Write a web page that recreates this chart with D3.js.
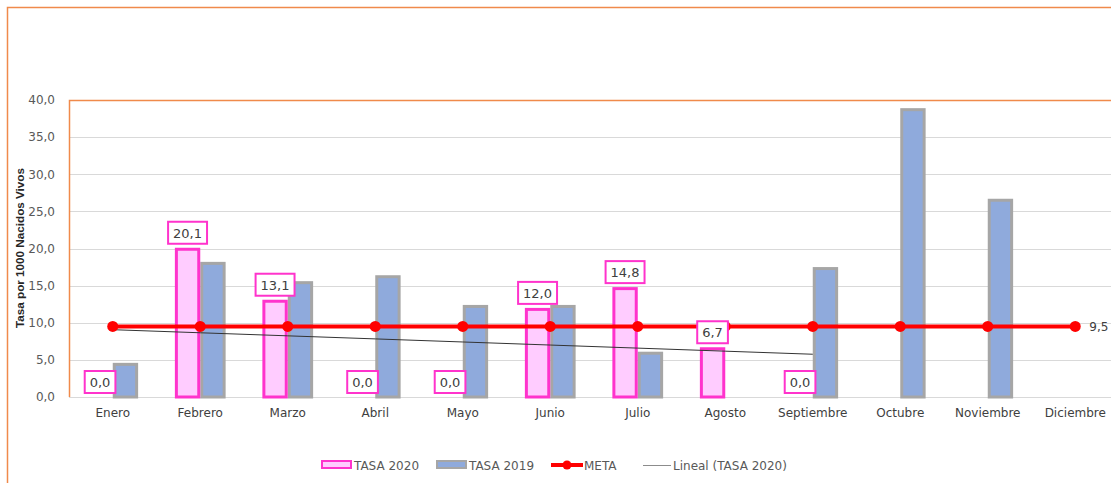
<!DOCTYPE html>
<html>
<head>
<meta charset="utf-8">
<script src="https://cdn.jsdelivr.net/npm/d3@7"></script>
<style>
  html, body { margin: 0; padding: 0; background: #fff; }
  svg { display: block; }
</style>
</head>
<body>
<svg id="chart" width="1111" height="483"></svg>
<script>
// Monthly rates per 1000 live births
const months = ["Enero", "Febrero", "Marzo", "Abril", "Mayo", "Junio", "Julio",
                "Agosto", "Septiembre", "Octubre", "Noviembre", "Diciembre"];
const tasa2020 = [0.0, 20.1, 13.1, 0.0, 0.0, 12.0, 14.8, 6.7, 0.0, null, null, null];
const tasa2019 = [4.6, 18.2, 15.6, 16.4, 12.4, 12.4, 6.1, null, 17.5, 38.9, 26.7, null];
const meta = [9.5, 9.5, 9.5, 9.5, 9.5, 9.5, 9.5, 9.5, 9.5, 9.5, 9.5, 9.5];
const yTicks = [0, 5, 10, 15, 20, 25, 30, 35, 40];
const seriesNames = ["TASA 2020", "TASA 2019", "META", "Lineal (TASA 2020)"];

const fmt = v => d3.format(".1f")(v).replace(".", ",");

const svg = d3.select("#chart");
const FONT = "DejaVu Sans, sans-serif";
const ORANGE = "#f08a4b";
const PINK_STROKE = "#ff33cc", PINK_FILL = "#ffccff";
const BLUE_FILL = "#8faadc", GRAY_STROKE = "#a6a6a6";
const RED = "#ff0000";

// outer chart frame
svg.append("path")
  .attr("d", "M7.5,483 V7.5 H1111")
  .attr("fill", "none").attr("stroke", ORANGE).attr("stroke-width", 1.5);

const plot = { left: 69, top: 100, right: 1119, bottom: 397 };

const x = d3.scaleBand().domain(months)
  .range([plot.left, plot.right]).paddingInner(0.42).paddingOuter(0.21);
const xs = d3.scaleBand().domain(["2020", "2019"]).range([0, x.bandwidth()]);
const y = d3.scaleLinear().domain([0, 40]).range([plot.bottom, plot.top]);

// gridlines
svg.append("g")
  .selectAll("line").data(yTicks).join("line")
  .attr("x1", plot.left).attr("x2", 1111)
  .attr("y1", d => Math.round(y(d)) + 0.5).attr("y2", d => Math.round(y(d)) + 0.5)
  .attr("stroke", "#d9d9d9").attr("stroke-width", 1);

// plot area border (left and top)
svg.append("path")
  .attr("d", `M${plot.left + 0.5},${plot.bottom} V${plot.top + 0.5} H1111`)
  .attr("fill", "none").attr("stroke", ORANGE).attr("stroke-width", 1.5);

// y axis
const yAxis = svg.append("g")
  .attr("transform", `translate(${plot.left},0)`)
  .call(d3.axisLeft(y).tickValues(yTicks).tickFormat(fmt).tickSize(0).tickPadding(14));
yAxis.select(".domain").remove();
yAxis.selectAll("text").attr("font-family", FONT).attr("font-size", 12).attr("fill", "#595959");

// x axis
const xAxis = svg.append("g")
  .attr("transform", `translate(0,${plot.bottom})`)
  .call(d3.axisBottom(x).tickSize(0).tickPadding(11));
xAxis.select(".domain").remove();
xAxis.selectAll("text").attr("font-family", FONT).attr("font-size", 12).attr("fill", "#404040");

// y axis title
svg.append("text")
  .attr("transform", `translate(24,248) rotate(-90)`)
  .attr("text-anchor", "middle")
  .attr("font-family", "Liberation Sans, Arial, sans-serif")
  .attr("font-weight", "bold").attr("font-size", 11.7).attr("fill", "#262626")
  .text("Tasa por 1000 Nacidos Vivos");

// bars
const sw = 3;
const bars2019 = months.map((m, i) => ({ m, v: tasa2019[i] })).filter(d => d.v != null && d.v > 0);
svg.append("g").selectAll("rect").data(bars2019).join("rect")
  .attr("x", d => x(d.m) + xs("2019") + sw / 2)
  .attr("width", xs.bandwidth() - sw)
  .attr("y", d => y(d.v) + sw / 2)
  .attr("height", d => Math.max(0, y(0) - y(d.v) - sw / 2))
  .attr("fill", BLUE_FILL).attr("stroke", GRAY_STROKE).attr("stroke-width", sw);

const bars2020 = months.map((m, i) => ({ m, v: tasa2020[i] })).filter(d => d.v != null);
svg.append("g").selectAll("rect").data(bars2020.filter(d => d.v > 0)).join("rect")
  .attr("x", d => x(d.m) + xs("2020") + sw / 2)
  .attr("width", xs.bandwidth() - sw)
  .attr("y", d => y(d.v) + sw / 2)
  .attr("height", d => Math.max(0, y(0) - y(d.v) - sw / 2))
  .attr("fill", PINK_FILL).attr("stroke", PINK_STROKE).attr("stroke-width", sw);

// linear trend of TASA 2020 (least squares over the months with data)
const pts = bars2020.map(d => ({ i: months.indexOf(d.m) + 1, v: d.v }));
const mx = d3.mean(pts, p => p.i), my = d3.mean(pts, p => p.v);
const slope = d3.sum(pts, p => (p.i - mx) * (p.v - my)) / d3.sum(pts, p => (p.i - mx) ** 2);
const trend = pts.map(p => ({ m: months[p.i - 1], v: my + slope * (p.i - mx) }));
svg.append("path")
  .datum(trend)
  .attr("d", d3.line().x(d => x(d.m) + x.bandwidth() / 2).y(d => y(d.v)))
  .attr("fill", "none").attr("stroke", "#333").attr("stroke-width", 1);

// META line with markers
const metaData = months.map((m, i) => ({ m, v: meta[i] }));
svg.append("path")
  .datum(metaData)
  .attr("d", d3.line().x(d => x(d.m) + x.bandwidth() / 2).y(d => y(d.v)))
  .attr("fill", "none").attr("stroke", RED).attr("stroke-width", 4);
svg.append("g").selectAll("circle").data(metaData).join("circle")
  .attr("cx", d => x(d.m) + x.bandwidth() / 2).attr("cy", d => y(d.v))
  .attr("r", 5.5).attr("fill", RED);

const lastMeta = metaData[metaData.length - 1];
svg.append("text")
  .attr("x", x(lastMeta.m) + x.bandwidth() / 2 + 14).attr("y", y(lastMeta.v) + 4.5)
  .attr("font-family", FONT).attr("font-size", 12).attr("fill", "#404040")
  .text(fmt(lastMeta.v));

// data labels for TASA 2020
const labels = svg.append("g").selectAll("g").data(bars2020).join("g");
labels.each(function (d) {
  const g = d3.select(this);
  const cx = x(d.m) + xs("2020") + xs.bandwidth() / 2;
  const bottom = y(d.v) - 4;
  const t = g.append("text")
    .attr("x", cx).attr("y", bottom - 6)
    .attr("text-anchor", "middle")
    .attr("font-family", FONT).attr("font-size", 13).attr("fill", "#404040")
    .text(fmt(d.v));
  const w = t.node().getComputedTextLength() + 10;
  g.insert("rect", "text")
    .attr("x", cx - w / 2).attr("y", bottom - 22)
    .attr("width", w).attr("height", 22)
    .attr("fill", "#fff").attr("stroke", PINK_STROKE).attr("stroke-width", 2);
});

// legend
const legend = svg.append("g").attr("font-family", FONT).attr("font-size", 12).attr("fill", "#595959");
const ly = 465;
const items = [
  { x: 321, text: seriesNames[0], draw: g => g.append("rect").attr("x", 1).attr("y", -4).attr("width", 29).attr("height", 7)
      .attr("fill", PINK_FILL).attr("stroke", PINK_STROKE).attr("stroke-width", 2) },
  { x: 436, text: seriesNames[1], draw: g => g.append("rect").attr("x", 1).attr("y", -4).attr("width", 29).attr("height", 7)
      .attr("fill", BLUE_FILL).attr("stroke", GRAY_STROKE).attr("stroke-width", 2) },
  { x: 551, text: seriesNames[2], draw: g => {
      g.append("line").attr("x1", 0).attr("x2", 32).attr("y1", 0).attr("y2", 0).attr("stroke", RED).attr("stroke-width", 4);
      g.append("circle").attr("cx", 16).attr("cy", 0).attr("r", 4.5).attr("fill", RED);
    } },
  { x: 643, text: seriesNames[3], draw: g => g.append("line").attr("x1", 0).attr("x2", 28).attr("y1", 0.5).attr("y2", 0.5)
      .attr("stroke", "#8c8c8c").attr("stroke-width", 1) }
];
items.forEach((it, i) => {
  const g = legend.append("g").attr("transform", `translate(${it.x},${ly})`);
  it.draw(g);
  const off = i === 3 ? 30 : (i === 2 ? 33 : 33);
  g.append("text").attr("x", off).attr("y", 4.5).attr("stroke", "none").text(it.text);
});
</script>
</body>
</html>
